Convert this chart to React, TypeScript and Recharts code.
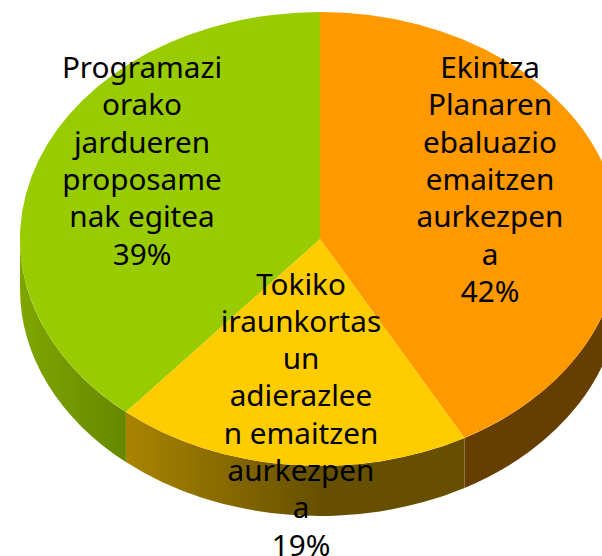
import React from 'react';
import { PieChart, Pie } from 'recharts';

const CATEGORIES = ['Ekintza', 'Tokiko', 'Programazio'];
const VALUES = [42, 19.2, 38.8];
const TOP_COLORS = ['#FF9900', '#FFCC00', '#99CC00'];
const SIDE_FILLS = ['url(#sideOrange)', 'url(#sideYellow)', 'url(#sideGreen)'];
const LABEL_LINES = [
  ['Ekintza', 'Planaren', 'ebaluazio', 'emaitzen', 'aurkezpen', 'a'],
  ['Tokiko', 'iraunkortas', 'un', 'adierazlee', 'n emaitzen', 'aurkezpen', 'a'],
  ['Programazi', 'orako', 'jardueren', 'proposame', 'nak egitea'],
];

const data = CATEGORIES.map((name, i) => ({ name, value: VALUES[i] }));

const WIDTH = 602;
const HEIGHT = 556;
const CX = 320;
const CY = 239;
const RX = 300;
const RY = 227;
const DEPTH = 50;
const LINE_HEIGHT = 37.3;
const FONT = '"Noto Sans", sans-serif';
const FONT_SIZE = 29.7;
// where the first baseline of each label sits
const LABEL_ANCHORS = [
  { x: 490, y: 78 },
  { x: 301, y: 294.5 },
  { x: 142, y: 78 },
];

const pt = (deg: number, dy = 0) => {
  const r = (deg * Math.PI) / 180;
  return [CX + RX * Math.cos(r), CY + dy - RY * Math.sin(r)];
};

// top face: an ellipse sector built from the angles the Pie computed
const TopSlice = (props: any) => {
  const { startAngle, endAngle, fill } = props;
  const [x0, y0] = pt(startAngle);
  const [x1, y1] = pt(endAngle);
  const large = Math.abs(startAngle - endAngle) > 180 ? 1 : 0;
  return (
    <path
      d={`M${CX},${CY}L${x0},${y0}A${RX},${RY} 0 ${large} 1 ${x1},${y1}Z`}
      fill={fill}
    />
  );
};

// side wall: only the part of the slice that lies on the front half
const SideSlice = (props: any) => {
  const { startAngle, endAngle, fill } = props;
  const a = Math.min(startAngle, 0);
  const b = Math.max(endAngle, -180);
  if (a <= b) return null;
  const [x0, y0] = pt(a);
  const [x1, y1] = pt(b);
  const [x2, y2] = pt(b, DEPTH);
  const [x3, y3] = pt(a, DEPTH);
  return (
    <path
      d={`M${x0},${y0}A${RX},${RY} 0 0 1 ${x1},${y1}L${x2},${y2}A${RX},${RY} 0 0 0 ${x3},${y3}Z`}
      fill={fill}
    />
  );
};

const renderLabel = (props: any) => {
  const i = props.index;
  const { x, y } = LABEL_ANCHORS[i];
  const lines = [...LABEL_LINES[i], `${Math.round(VALUES[i])}%`];
  return (
    <text key={i} x={x} y={y} textAnchor="middle" fill="#000" fontFamily={FONT} fontSize={FONT_SIZE}>
      {lines.map((line, k) => (
        <tspan key={k} x={x} y={y + k * LINE_HEIGHT}>
          {line}
        </tspan>
      ))}
    </text>
  );
};

export default function App() {
  return (
    <div style={{ position: 'absolute', left: 0, top: 0 }}>
      <PieChart width={WIDTH} height={HEIGHT} margin={{ top: 0, right: 0, bottom: 0, left: 0 }}>
        <defs>
          <linearGradient id="sideGreen" gradientUnits="userSpaceOnUse" x1={20} y1={0} x2={125} y2={0}>
            <stop offset="0%" stopColor="#7FA600" />
            <stop offset="100%" stopColor="#668800" />
          </linearGradient>
          <linearGradient id="sideYellow" gradientUnits="userSpaceOnUse" x1={125} y1={0} x2={320} y2={0}>
            <stop offset="0%" stopColor="#AA8400" />
            <stop offset="100%" stopColor="#665000" />
          </linearGradient>
          <linearGradient id="sideOrange" gradientUnits="userSpaceOnUse" x1={465} y1={0} x2={620} y2={0}>
            <stop offset="0%" stopColor="#663F00" />
            <stop offset="100%" stopColor="#663F00" />
          </linearGradient>
        </defs>
        <Pie
          data={data.map((d, i) => ({ ...d, fill: SIDE_FILLS[i] }))}
          dataKey="value"
          cx={CX}
          cy={CY}
          outerRadius={RX}
          startAngle={90}
          endAngle={-270}
          stroke="none"
          shape={SideSlice}
          label={false}
          isAnimationActive={false}
        />
        <Pie
          data={data.map((d, i) => ({ ...d, fill: TOP_COLORS[i] }))}
          dataKey="value"
          cx={CX}
          cy={CY}
          outerRadius={RX}
          startAngle={90}
          endAngle={-270}
          stroke="none"
          shape={TopSlice}
          label={renderLabel}
          labelLine={false}
          isAnimationActive={false}
        />
      </PieChart>
    </div>
  );
}
